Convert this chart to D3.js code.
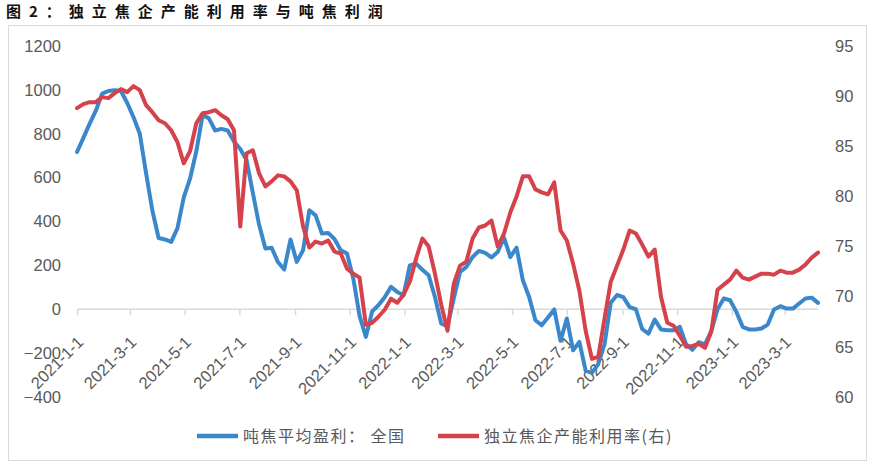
<!DOCTYPE html>
<html>
<head>
<meta charset="utf-8">
<script src="https://cdn.jsdelivr.net/npm/d3@7"></script>
<style>
  html, body { margin: 0; padding: 0; background: #fff; }
  svg { display: block; }
</style>
</head>
<body>
<svg id="chart" width="871" height="462"></svg>
<script>
// ---------- data ----------
const titleText = "图2：独立焦企产能利用率与吨焦利润";
const seriesNames = ["吨焦平均盈利： 全国", "独立焦企产能利用率(右)"];
const startDate = "2021-01-01";   // first weekly observation
// 吨焦平均盈利：全国 (元/吨), weekly
const profit = [
  717, 780, 845, 905, 983, 995, 998, 995, 940, 875,
  800, 620, 450, 325, 318, 307, 370, 510, 595, 720,
  885, 870, 815, 822, 815, 765, 730, 680, 530, 385,
  277, 280, 215, 181, 318, 216, 269, 451, 428, 345,
  348, 320, 269, 254, 140, -30, -126, -10, 18, 55,
  102, 79, 64, 200, 208, 180, 155, 56, -65, -78,
  50, 170, 193, 238, 266, 257, 236, 261, 327, 238,
  281, 132, 56, -50, -73, -38, -1, -144, -42, -187,
  -149, -280, -290, -250, -160, 30, 65, 55, 10, 0,
  -90, -111, -47, -92, -96, -96, -80, -160, -185, -150,
  -160, -100, 0, 49, 41, -12, -80, -92, -92, -88,
  -70, -1, 14, 3, 3, 26, 49, 53, 29
];
// 独立焦企产能利用率 (%), weekly, right axis
const utilization = [
  88.8, 89.2, 89.4, 89.4, 89.9, 89.8, 90.3, 90.7, 90.4, 91.0,
  90.6, 89.1, 88.4, 87.6, 87.3, 86.6, 85.4, 83.3, 84.5, 87.3,
  88.3, 88.4, 88.6, 88.1, 87.7, 86.6, 77.0, 84.3, 84.6, 82.3,
  81.0, 81.5, 82.1, 82.0, 81.5, 80.6, 77.0, 74.9, 75.5, 75.3,
  75.6, 74.5, 74.3, 72.8, 72.3, 71.9, 67.2, 67.4, 68.0, 68.7,
  69.8, 69.4, 70.2, 71.5, 73.8, 75.8, 75.0, 72.3, 69.2, 66.6,
  71.3, 73.1, 73.5, 75.8, 76.9, 77.1, 77.6, 75.0, 76.3, 78.4,
  80.0, 82.0, 82.0, 80.7, 80.4, 80.2, 81.4, 76.6, 75.6, 73.3,
  70.6, 66.6, 63.8, 64.0, 67.8, 71.5, 73.1, 74.7, 76.6, 76.3,
  75.2, 74.0, 74.7, 70.0, 67.4, 67.1, 66.1, 65.0, 65.1, 65.3,
  64.9, 66.5, 70.7, 71.2, 71.7, 72.6, 71.9, 71.7, 72.0, 72.3,
  72.3, 72.2, 72.6, 72.4, 72.4, 72.7, 73.2, 73.9, 74.4
];
const xTickLabels = ["2021-1-1","2021-3-1","2021-5-1","2021-7-1","2021-9-1","2021-11-1",
  "2022-1-1","2022-3-1","2022-5-1","2022-7-1","2022-9-1","2022-11-1","2023-1-1","2023-3-1"];
const leftTicks = [1200, 1000, 800, 600, 400, 200, 0, -200, -400];
const rightTicks = [95, 90, 85, 80, 75, 70, 65, 60];

// ---------- setup ----------
const parse = d3.timeParse("%Y-%m-%d");
const t0 = parse(startDate);
const dates = profit.map((_, i) => d3.timeDay.offset(t0, 7 * i));
const tickDates = xTickLabels.map(s => { const [y, m, d] = s.split("-").map(Number); return new Date(y, m - 1, d); });

const svg = d3.select("#chart");
const labelColor = "#595959";
const axisColor = "#d9d9d9";
const blue = "#3a88cb";
const red = "#d5424b";
const latin = "'Liberation Sans', Arial, sans-serif";
const cjk = "'Noto Sans CJK SC', sans-serif";

const x = d3.scaleTime().domain([t0, dates[dates.length - 1]]).range([77, 818]);
const yL = d3.scaleLinear().domain([-400, 1200]).range([397, 46]);
const yR = d3.scaleLinear().domain([60, 95]).range([397, 46]);

// frame
svg.append("rect").attr("x", 8.5).attr("y", 25.5).attr("width", 858).attr("height", 435)
  .attr("fill", "none").attr("stroke", axisColor).attr("stroke-width", 1);

// title
svg.append("text").attr("x", 6).attr("y", 17)
  .attr("font-family", cjk).attr("font-weight", "bold").attr("font-size", 15)
  .attr("letter-spacing", "8px").attr("fill", "#111")
  .text(titleText);

// left axis
const gL = svg.append("g").attr("transform", "translate(61,0)")
  .call(d3.axisLeft(yL).tickValues(leftTicks).tickSize(0).tickPadding(0).tickFormat(d3.format("d")));
gL.select(".domain").remove();
gL.selectAll("text").attr("fill", labelColor).attr("font-family", latin).attr("font-size", 16.5);

// right axis
const gR = svg.append("g").attr("transform", "translate(835,0)")
  .call(d3.axisRight(yR).tickValues(rightTicks).tickSize(0).tickPadding(0).tickFormat(d3.format("d")));
gR.select(".domain").remove();
gR.selectAll("text").attr("fill", labelColor).attr("font-family", latin).attr("font-size", 16.5);

// x axis at zero of left axis
const gX = svg.append("g").attr("transform", `translate(0,${yL(0)})`)
  .call(d3.axisBottom(x).tickValues(tickDates).tickSize(6)
    .tickFormat((d, i) => xTickLabels[i]));
gX.select(".domain").attr("stroke", axisColor).attr("stroke-width", 1.5)
  .attr("d", `M${x.range()[0]},0H${x.range()[1]}`);
gX.selectAll(".tick line").attr("stroke", axisColor).attr("stroke-width", 1.5);
gX.selectAll(".tick text")
  .attr("fill", labelColor).attr("font-family", latin).attr("font-size", 16.5)
  .attr("text-anchor", "end")
  .attr("dy", 0).attr("y", 0)
  .attr("transform", "translate(7,34) rotate(-45)");

// lines
const lineL = d3.line().x((d, i) => x(dates[i])).y(d => yL(d));
const lineR = d3.line().x((d, i) => x(dates[i])).y(d => yR(d));
svg.append("path").datum(profit).attr("d", lineL)
  .attr("fill", "none").attr("stroke", blue).attr("stroke-width", 4)
  .attr("stroke-linejoin", "round").attr("stroke-linecap", "round");
svg.append("path").datum(utilization).attr("d", lineR)
  .attr("fill", "none").attr("stroke", red).attr("stroke-width", 4)
  .attr("stroke-linejoin", "round").attr("stroke-linecap", "round");

// legend
const legend = [
  { name: seriesNames[0], color: blue, x: 197 },
  { name: seriesNames[1], color: red, x: 438 }
];
const lg = svg.append("g");
legend.forEach(l => {
  lg.append("line").attr("x1", l.x).attr("x2", l.x + 41).attr("y1", 436).attr("y2", 436)
    .attr("stroke", l.color).attr("stroke-width", 4.5);
  lg.append("text").attr("x", l.x + 46).attr("y", 442)
    .attr("font-family", cjk).attr("font-size", 16).attr("letter-spacing", "1.5px")
    .attr("fill", labelColor).text(l.name);
});
</script>
</body>
</html>
